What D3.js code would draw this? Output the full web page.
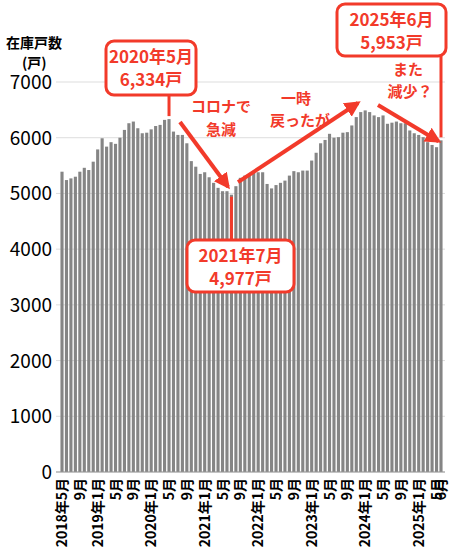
<!DOCTYPE html><html><head><meta charset="utf-8"><script src="https://cdn.jsdelivr.net/npm/d3@7"></script>
<style>body{margin:0;background:#fff}text{font-family:"Noto Sans CJK JP",sans-serif}</style></head><body><svg id="c" width="450" height="558"></svg><script>
const values=[5390,5240,5270,5300,5390,5460,5420,5570,5790,5990,5840,5920,5890,6000,6140,6260,6290,6170,6080,6090,6150,6210,6230,6320,6334,
6110,6050,6050,5900,5580,5480,5350,5380,5290,5190,5100,5040,5040,4977,5130,5280,5320,5350,5370,5380,5380,5170,5090,5150,5190,5230,5320,5400,5380,5410,5410,5590,5730,5900,5960,6070,6000,6010,6090,6100,6220,6370,6460,6490,6460,6400,6370,6400,6250,6270,6290,6260,6260,6130,6080,6050,6010,5920,5870,5830,5953];
const months=values.map((d,i)=>{const m=(4+i)%12+1,y=2018+Math.floor((4+i)/12);return {y,m,i};});
const yTicks=[0,1000,2000,3000,4000,5000,6000,7000];
const svg=d3.select("#c");
const x=d3.scaleBand().domain(d3.range(values.length)).range([60,443]).paddingInner(0.3).paddingOuter(0.1);
const y=d3.scaleLinear().domain([0,7000]).range([472,82]);
svg.selectAll(".g").data(yTicks).join("line").attr("x1",56).attr("x2",445).attr("y1",d=>y(d)).attr("y2",d=>y(d)).attr("stroke","#ddd");
svg.selectAll(".yl").data(yTicks).join("text").attr("x",52).attr("y",d=>y(d)+7).attr("text-anchor","end").attr("font-size",19).attr("font-family","Liberation Sans,sans-serif").text(d=>d);
svg.selectAll(".b").data(values).join("rect").attr("x",(d,i)=>x(i)).attr("width",x.bandwidth()).attr("y",d=>y(d)).attr("height",d=>472-y(d)).attr("fill","#858585");
svg.append("line").attr("x1",56).attr("x2",445).attr("y1",472).attr("y2",472).attr("stroke","#999");
const lab=months.filter(d=>(d.m-5)%4===0||d.i===values.length-1);
svg.selectAll(".xl").data(lab).join("text").attr("transform",d=>`translate(${x(d.i)+x.bandwidth()/2+5},478) rotate(-90)`).attr("text-anchor","end").attr("font-size",14).attr("font-weight","bold")
 .text(d=>(d.m===1||d.i===0)?`${d.y}年${d.m}月`:`${d.m}月`);
svg.append("text").attr("x",6).attr("y",48).attr("font-size",14).attr("font-weight","bold").text("在庫戸数");
svg.append("text").attr("x",22).attr("y",68).attr("font-size",14).attr("font-weight","bold").text("(戸)");
const red="#f23a2a";
const defs=svg.append("defs");
defs.append("marker").attr("id","ah").attr("viewBox","0 0 10 10").attr("refX",8).attr("refY",5).attr("markerWidth",4).attr("markerHeight",4).attr("orient","auto").append("path").attr("d","M0,0L10,5L0,10z").attr("fill",red);
function arrow(x1,y1,x2,y2){svg.append("line").attr("x1",x1).attr("y1",y1).attr("x2",x2).attr("y2",y2).attr("stroke",red).attr("stroke-width",4).attr("marker-end","url(#ah)");}
const cx=i=>x(i)+x.bandwidth()/2;
arrow(180,122,228,y(values[38])-8);
arrow(238,y(values[39])-4,358,103);
arrow(378,105,cx(84)+2,y(values[84])-6);
function box(x0,y0,w,h,l1,l2,lx,ly){
 svg.append("line").attr("x1",lx[0]).attr("y1",lx[1]).attr("x2",ly[0]).attr("y2",ly[1]).attr("stroke",red).attr("stroke-width",3);
 svg.append("rect").attr("x",x0).attr("y",y0).attr("width",w).attr("height",h).attr("rx",8).attr("fill","#fff").attr("stroke",red).attr("stroke-width",3);
 svg.append("text").attr("x",x0+w/2).attr("y",y0+22).attr("text-anchor","middle").attr("fill",red).attr("font-size",17).attr("font-weight","bold").text(l1);
 svg.append("text").attr("x",x0+w/2).attr("y",y0+45).attr("text-anchor","middle").attr("fill",red).attr("font-size",17).attr("font-weight","bold").text(l2);
}
box(106,41,90,54,"2020年5月","6,334戸",[cx(24),95],[cx(24),y(values[24])-3]);
box(187,240,107,52,"2021年7月","4,977戸",[cx(38),240],[cx(38),y(values[38])+2]);
box(337,4,109,52,"2025年6月","5,953戸",[cx(85),56],[cx(85),y(values[85])-3]);
function t(s,tx,ty){svg.append("text").attr("x",tx).attr("y",ty).attr("text-anchor","middle").attr("fill",red).attr("font-size",15).attr("font-weight","bold").text(s);}
t("コロナで",221,112);t("急減",221,135);t("一時",296,104);t("戻ったが",300,126);t("また",408,75);t("減少？",410,97);
</script></body></html>
